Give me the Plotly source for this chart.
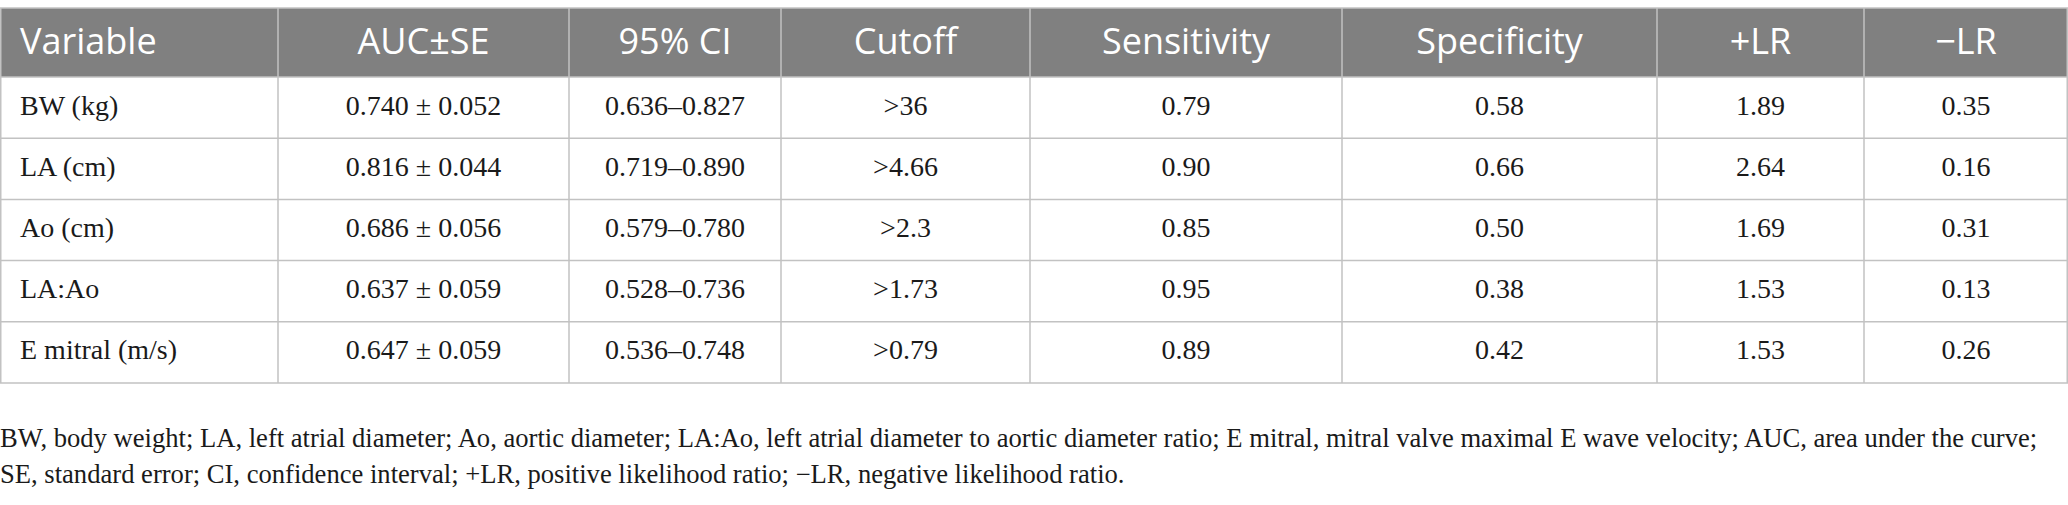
import itertools
import plotly.graph_objects as go

# ROC cut-off table
columns = ['Variable', 'AUC±SE', '95% CI', 'Cutoff', 'Sensitivity',
           'Specificity', '+LR', '\u2212LR']

variables = ['BW (kg)', 'LA (cm)', 'Ao (cm)', 'LA:Ao', 'E mitral (m/s)']
auc = [0.740, 0.816, 0.686, 0.637, 0.647]
auc_se = [0.052, 0.044, 0.056, 0.059, 0.059]
ci_low = [0.636, 0.719, 0.579, 0.528, 0.536]
ci_high = [0.827, 0.890, 0.780, 0.736, 0.748]
cutoff = ['>36', '>4.66', '>2.3', '>1.73', '>0.79']
sensitivity = [0.79, 0.90, 0.85, 0.95, 0.89]
specificity = [0.58, 0.66, 0.50, 0.38, 0.42]
plus_lr = [1.89, 2.64, 1.69, 1.53, 1.53]
minus_lr = [0.35, 0.16, 0.31, 0.13, 0.26]

footnote = [
    'BW, body weight; LA, left atrial diameter; Ao, aortic diameter; LA:Ao, left atrial '
    'diameter to aortic diameter ratio; E mitral, mitral valve maximal E wave velocity; '
    'AUC, area under the curve;',
    'SE, standard error; CI, confidence interval; +LR, positive likelihood ratio; '
    '\u2212LR, negative likelihood ratio.',
]

# layout (pixels)
W, H = 2068, 505
col_widths = [278, 291, 212, 249, 312, 315, 207, 204]
table_top = 8
header_h = 69
row_h = 61.2
foot_y = [440, 476]

GRID = '#c2c2c2'
HEADER_BG = '#808080'
INK = '#1a1a1a'


def main():
    edges = [0] + list(itertools.accumulate(col_widths))
    n_rows = len(variables)
    body_top = table_top + header_h
    table_bottom = body_top + n_rows * row_h
    row_y = [body_top + (i + 0.5) * row_h for i in range(n_rows)]
    header_y = table_top + header_h / 2 + 2

    cells = [
        variables,
        [f'{a:.3f} ± {s:.3f}' for a, s in zip(auc, auc_se)],
        [f'{lo:.3f}–{hi:.3f}' for lo, hi in zip(ci_low, ci_high)],
        cutoff,
        [f'{v:.2f}' for v in sensitivity],
        [f'{v:.2f}' for v in specificity],
        [f'{v:.2f}' for v in plus_lr],
        [f'{v:.2f}' for v in minus_lr],
    ]

    fig = go.Figure()

    # header fill and grid
    fig.add_shape(type='rect', x0=0, x1=W, y0=table_top, y1=body_top,
                  fillcolor=HEADER_BG, line_width=0, layer='below')
    for y in [table_top, body_top] + [body_top + (i + 1) * row_h for i in range(n_rows)]:
        fig.add_shape(type='line', x0=0, x1=W, y0=y, y1=y,
                      line=dict(color=GRID, width=1.5))
    for x in edges:
        x = min(max(x, 0.75), W - 0.75)
        fig.add_shape(type='line', x0=x, x1=x, y0=table_top, y1=table_bottom,
                      line=dict(color=GRID, width=1.5))

    # header text
    for i, name in enumerate(columns):
        left = i == 0
        fig.add_trace(go.Scatter(
            x=[edges[i] + 20 if left else (edges[i] + edges[i + 1]) / 2],
            y=[header_y], text=[name], mode='text',
            textposition='middle right' if left else 'middle center',
            textfont=dict(family='Open Sans', size=36, color='white'),
            hoverinfo='skip', showlegend=False,
        ))

    # body text
    for i, col in enumerate(cells):
        left = i == 0
        xs = [edges[i] + 20 if left else (edges[i] + edges[i + 1]) / 2] * n_rows
        fig.add_trace(go.Scatter(
            x=xs, y=row_y, text=col, mode='text',
            textposition='middle right' if left else 'middle center',
            textfont=dict(family='Liberation Serif', size=28, color=INK),
            hoverinfo='skip', showlegend=False,
        ))

    # footnote
    fig.add_trace(go.Scatter(
        x=[0, 0], y=foot_y, text=footnote, mode='text',
        textposition='middle right',
        textfont=dict(family='Liberation Serif', size=26.6, color=INK),
        hoverinfo='skip', showlegend=False,
    ))

    fig.update_xaxes(range=[0, W], visible=False, fixedrange=True)
    fig.update_yaxes(range=[H, 0], visible=False, fixedrange=True)
    fig.update_layout(
        width=W, height=H,
        margin=dict(l=0, r=0, t=0, b=0),
        paper_bgcolor='white', plot_bgcolor='white',
    )
    fig.write_html('out.html', config={'displayModeBar': False},
                   post_script="document.body.style.margin='0';")


if __name__ == '__main__':
    main()
